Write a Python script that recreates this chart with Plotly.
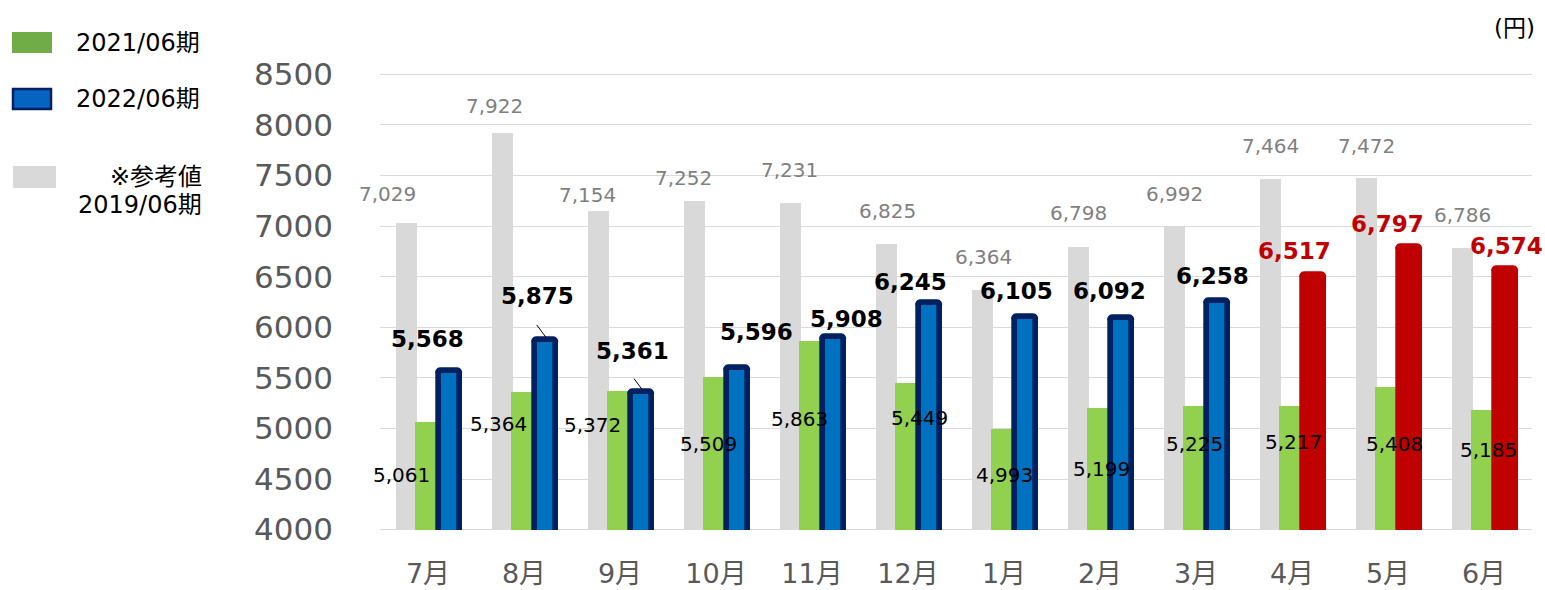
import plotly.graph_objects as go

# ---------------- data ----------------
months = ['7月', '8月', '9月', '10月', '11月', '12月', '1月', '2月', '3月', '4月', '5月', '6月']
ref_2019 = [7029, 7922, 7154, 7252, 7231, 6825, 6364, 6798, 6992, 7464, 7472, 6786]
fy2021 = [5061, 5364, 5372, 5509, 5863, 5449, 4993, 5199, 5225, 5217, 5408, 5185]
fy2022 = [5568, 5875, 5361, 5596, 5908, 6245, 6105, 6092, 6258, 6517, 6797, 6574]
y_ticks = [4000, 4500, 5000, 5500, 6000, 6500, 7000, 7500, 8000, 8500]

# ---------------- styling / label placement (pixels) ----------------
n_plain = 9  # first 9 months blue, last 3 red
FONT = "DejaVu Sans, Noto Sans CJK JP, sans-serif"
W, H = 1545, 590
ML, MR, MT, MB = 380, 13, 74, 60
PW, PH = W - ML - MR, H - MT - MB

gray_dx = [-41, -30, -33, -33, -23, -21, -21, -22, -22, -22, -22, -22]
gray_dy = [29, 27, 16, 22.5, 33, 32.7, 33.4, 33.6, 33, 33.5, 32.7, 32.5]
blue_dx = [-1, 13, 12, 40, 34, 2, 12, 9, 16, 2, -1, 22]
blue_dy = [31.6, 44, 41, 36, 18, 20.7, 25.7, 27, 25, 23.6, 22.3, 22.8]
green_dx = [-27, -26, -28, -7.5, -13, 11, 0, 1, -2, 1, 6, 4]
green_dy = [-53, -32, -34.5, -66.7, -78, -35, -46, -61, -38, -35.5, -56.5, -40.5]

fill22 = ['#0070c0'] * n_plain + ['#c00000'] * (len(months) - n_plain)
line22 = ['#002060'] * n_plain + ['#c00000'] * (len(months) - n_plain)
lbl22 = ['#000000'] * n_plain + ['#c00000'] * (len(months) - n_plain)

fig = go.Figure()
fig.add_trace(go.Bar(x=months, y=ref_2019, offset=-0.333, width=0.219,
                     marker=dict(color='#d9d9d9', line=dict(width=0)),
                     name='※参考値 2019/06期', showlegend=False))
fig.add_trace(go.Bar(x=months, y=fy2021, offset=-0.135, width=0.22,
                     marker=dict(color='#92d050', line=dict(width=0)),
                     name='2021/06期', showlegend=False))
fig.add_trace(go.Bar(x=months, y=fy2022, offset=0.117, width=0.216,
                     marker=dict(color=fill22, line=dict(color=line22, width=5.7),
                                 cornerradius=3),
                     name='2022/06期', showlegend=False))

ann = []
for i, m in enumerate(months):
    ann.append(dict(x=m, y=ref_2019[i], xref='x', yref='y', text=f"{ref_2019[i]:,}",
                    showarrow=False, xshift=gray_dx[i], yshift=gray_dy[i],
                    font=dict(family=FONT, size=20, color='#7f7f7f')))
    ann.append(dict(x=m, y=fy2021[i], xref='x', yref='y', text=f"{fy2021[i]:,}",
                    showarrow=False, xshift=green_dx[i], yshift=green_dy[i],
                    font=dict(family=FONT, size=20, color='#000000')))
    ann.append(dict(x=m, y=fy2022[i], xref='x', yref='y', text=f"<b>{fy2022[i]:,}</b>",
                    showarrow=False, xshift=blue_dx[i], yshift=blue_dy[i],
                    font=dict(family=FONT, size=23, color=lbl22[i])))

def px2paper(px, py):
    return (px - ML) / PW, (H - MB - py) / PH

# legend (drawn manually)
shapes = []
def rect(x0, y0, x1, y1, fill, line=None, lw=0):
    a, b = px2paper(x0, y0)
    c, d = px2paper(x1, y1)
    shapes.append(dict(type='rect', xref='paper', yref='paper', x0=a, y0=d, x1=c, y1=b,
                       fillcolor=fill, line=dict(color=line or fill, width=lw)))

rect(12, 32, 52, 53, '#70ad47')
rect(13, 89, 51, 109, '#0563c1', '#002060', 2.5)
rect(13, 166, 56, 188, '#d9d9d9')

def text(px, py, s, anchor='left', size=24, color='#000000'):
    x, y = px2paper(px, py)
    ann.append(dict(x=x, y=y, xref='paper', yref='paper', text=s, showarrow=False,
                    xanchor=anchor, yanchor='middle',
                    font=dict(family=FONT, size=size, color=color)))

text(74, 43, '2021/06期')
text(74, 99, '2022/06期')
text(204, 177, '※参考値', anchor='right')
text(204, 205, '2019/06期', anchor='right')
text(1537, 28, '(円)', anchor='right', size=23)

# edge gridlines (top and bottom of the value range)
for v in (y_ticks[0], y_ticks[-1]):
    shapes.append(dict(type='line', xref='paper', yref='y', x0=0, x1=1, y0=v, y1=v,
                       layer='below', line=dict(color='#d9d9d9', width=1.3)))

# leader lines for two labels
for i, (sx, sy) in [(1, (12.7, 15)), (2, (14, 13.3))]:
    shapes.append(dict(type='line', xref='x', yref='y', xsizemode='pixel', ysizemode='pixel',
                       xanchor=months[i], yanchor=fy2022[i],
                       x0=sx, y0=sy, x1=21.7, y1=3, line=dict(color='#000000', width=1)))

fig.update_layout(
    width=W, height=H, margin=dict(l=ML, r=MR, t=MT, b=MB, autoexpand=False),
    paper_bgcolor='white', plot_bgcolor='white',
    barmode='overlay', bargap=0,
    annotations=ann, shapes=shapes,
    font=dict(family=FONT),
    xaxis=dict(type='category', range=[-0.5, len(months) - 0.5], autorange=False,
               showgrid=False, showline=False, ticks='', automargin=False,
               tickfont=dict(family=FONT, size=27, color='#595959'),
               ticklabelstandoff=25, fixedrange=True),
    yaxis=dict(range=[3996, 8504], autorange=False, tickvals=y_ticks,
               ticktext=[str(v) for v in y_ticks], automargin=False,
               showgrid=True, gridcolor='#d9d9d9', gridwidth=1.3, zeroline=False,
               showline=False, ticks='',
               tickfont=dict(family=FONT, size=31, color='#595959'),
               ticklabelstandoff=46, fixedrange=True),
)

fig.write_html("out.html", config={"displayModeBar": False},
               post_script="document.body.style.margin='0';document.body.style.padding='0';")
